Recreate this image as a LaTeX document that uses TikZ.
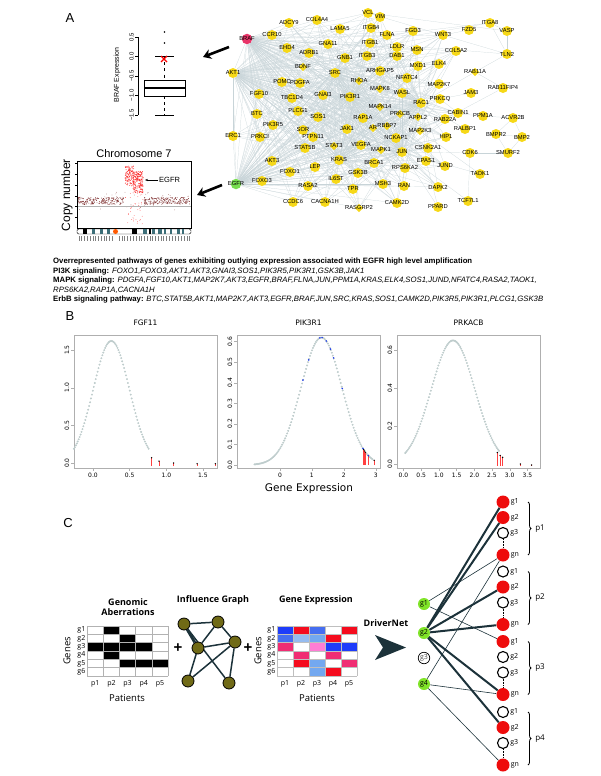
\documentclass[tikz,border=0pt]{standalone}
\usepackage{fontspec}
\setmainfont{Liberation Sans}
\newfontfamily\plotfont{DejaVu Sans}
\newfontfamily\schemefont{Open Sans}
\usetikzlibrary{arrows.meta,shapes.geometric,backgrounds,decorations.pathreplacing}

\definecolor{netyellow}{RGB}{246,216,24}
\definecolor{netgray}{RGB}{200,212,216}
\definecolor{brafpink}{RGB}{232,52,104}
\definecolor{egfrgreen}{RGB}{120,222,80}
\definecolor{cnvdark}{RGB}{125,45,45}
\definecolor{cnvred}{RGB}{250,40,40}
\definecolor{bandteal}{RGB}{60,110,120}
\definecolor{axisgray}{RGB}{175,175,175}
\definecolor{curvegray}{RGB}{190,204,204}
\definecolor{hitblue}{RGB}{30,60,235}
\definecolor{slate}{RGB}{28,50,58}
\definecolor{igolive}{RGB}{112,106,22}
\definecolor{drvgreen}{RGB}{128,228,40}
\definecolor{hitred}{RGB}{238,12,12}
\definecolor{exsb}{RGB}{30,60,250}
\definecolor{exmb}{RGB}{70,110,240}
\definecolor{exlb}{RGB}{115,168,240}
\definecolor{expb}{RGB}{150,188,240}
\definecolor{exrd}{RGB}{245,12,30}
\definecolor{expr}{RGB}{240,45,115}
\definecolor{expk}{RGB}{255,125,212}

% network genes: name/x/y
\def\genecirc{ADCY9/289/23, COL4A4/317/20, VCL/368/13, VIM/380/17, CCR10/272/35, LAMA5/340/29,
  ITGB4/371/28, FLNA/387/35, EHD4/287/48, GNA11/328/44, ITGB1/370/43, LDLR/397/47, ADRB1/309/53,
  GNB1/345/58, ITGB3/367/56, DAB1/397/56, SRC/335/73, ARHGAP5/380/71, POMC/282/82, PDGFA/300/83,
  FGF10/259/94, TBC1D4/292/98, GNAI3/323/95, PIK3R1/350/97, BTC/257/114, PLCG1/298/111,
  SOS1/318/117, RAP1A/363/118, PIK3R5/273/125, SOR/303/130, PTPN11/313/137, JAK1/347/129,
  ERC1/233/136, PRKCI/260/137, VEGFA/361/145, NCKAP1/396/138, STAT5B/305/148, AKT3/272/161,
  KRAS/339/160, FOXO1/290/172, LEP/315/167, BRCA1/374/163, FOXO3/262/181, RASA2/308/186,
  IL6ST/336/179, GSK3B/358/173, MSH3/383/184, TPR/353/189, CCDC6/293/202, CACNA1H/325/202,
  CAMK2D/397/203, FGD3/413/31, WNT3/443/35, FZD5/469/30, ITGA8/490/23, VASP/507/31, MSN/417/50,
  COL5A2/456/51, TLN2/507/54, MXD1/418/66, ELK4/439/64, NFATC4/407/78, MAP2K7/439/84,
  RAB11FIP4/503/88, JAM3/471/93, WASL/402/93, PRKCQ/440/99, RAC1/421/103, CABIN1/458/113,
  PPM1A/483/116, ACVR2B/513/118, RAB22A/445/119, RALBP1/465/129, BMPR2/496/134, BMP2/522/137,
  HIP1/446/137, CSNK2A1/428/148, CDK6/470/153, SMURF2/508/153, JUN/402/152, EPAS1/426/161,
  JUND/445/166, RPS6KA2/405/168, TAOK1/480/174, RAN/404/186, DAPK2/438/187, TCF7L1/468/201,
  PPARD/438/207, AKT1/233/73}
\def\genediam{BDNF/303/67, RHOA/359/81, MAPK8/380/89, MAPK14/380/107, AR/373/128, RBBP7/387/126,
  STAT3/334/146, MAPK1/381/150, PRKCB/400/114, APPL2/418/117, MAP2K3/420/131, RAB11A/475/72,
  RASGRP2/359/208}
\def\netleft{ADCY9,COL4A4,VCL,VIM,CCR10,LAMA5,ITGB4,FLNA,EHD4,GNA11,ITGB1,LDLR,ADRB1,GNB1,ITGB3,
  DAB1,BDNF,ARHGAP5,POMC,PDGFA,RHOA,FGF10,TBC1D4,GNAI3,MAPK8,MAPK14,BTC,PLCG1,SOS1,RAP1A,PIK3R5,
  SOR,PTPN11,JAK1,AR,RBBP7,ERC1,PRKCI,STAT3,VEGFA,NCKAP1,STAT5B,AKT3,FOXO1,LEP,BRCA1,FOXO3,RASA2,
  IL6ST,GSK3B,MSH3,TPR,CCDC6,CACNA1H,RASGRP2,CAMK2D,MAPK1,MSN,MXD1,NFATC4,WASL,PRKCB,APPL2,
  MAP2K3,CSNK2A1,RPS6KA2,RAN,EPAS1,ELK4,MAP2K7,PRKCQ,RAB22A,HIP1,DAPK2,JUND,FGD3,WNT3,COL5A2,CABIN1}

\begin{document}
\begin{tikzpicture}[x=1pt, y=-1pt,
    gene/.style={circle, fill=netyellow, inner sep=0pt, minimum size=10pt},
    genedia/.style={diamond, fill=netyellow, inner sep=0pt, minimum size=8.5pt},
    glab/.style={font=\fontsize{5.8}{5.8}\selectfont, inner sep=0pt},
    netline/.style={draw=netgray, line width=0.2pt},
    fatarrow/.style={line width=2.6pt, -{Stealth[length=8pt,width=10pt]}},
    rlab/.style={font=\fontsize{6}{6}\selectfont, inner sep=1pt},
    txt/.style={font=\fontsize{7.75}{7.75}\selectfont, inner sep=0pt, anchor=west},
    ttl/.style={font=\plotfont\fontsize{7.5}{7.5}\selectfont},
    ticklab/.style={font=\plotfont\fontsize{6}{6}\selectfont, inner sep=1.5pt},
    plotbox/.style={draw=axisgray, line width=0.8pt},
    hitline/.style={draw=red!75, line width=0.6pt},
    curvedots/.style={draw=curvegray, fill=curvegray},
    sch/.style={font=\schemefont\fontsize{7}{7}\selectfont, inner sep=1pt},
    schbold/.style={font=\schemefont\bfseries\fontsize{9}{10}\selectfont, align=center},
    ignode/.style={circle, fill=igolive, draw=black, line width=0.8pt, minimum size=12pt, inner sep=0pt},
    igedge/.style={draw=slate, line width=1.5pt},
    drv/.style={circle, fill=drvgreen, inner sep=0pt, minimum size=12pt, font=\schemefont\fontsize{7}{7}\selectfont},
    hit/.style={circle, fill=hitred, inner sep=0pt, minimum size=13pt},
    miss/.style={circle, draw=black, line width=1.1pt, fill=white, inner sep=0pt, minimum size=11pt},
    thinlink/.style={draw=slate, line width=0.6pt},
    boldlink/.style={draw=slate, line width=2pt}]
\useasboundingbox (0,0) rectangle (600,776);

% ---------- A ----------
\node[font=\fontsize{13}{13}\selectfont] (lblA) at (70,18) {A};

% boxplot BRAF
\draw[line width=0.5pt] (138,37) -- (138,115);
\foreach \v/\t in {0.5/0.5, 0/0.0, -0.5/−0.5, -1/−1.0, -1.5/−1.5}
  \draw[line width=0.5pt] (138,{56.5-39*(\v)}) -- ++(-3,0) node[rlab, rotate=90, anchor=south] {\t};
\node[rlab, rotate=90, font=\fontsize{7}{7}\selectfont] (brafy) at (117,75) {BRAF Expression};
\draw[dashed, line width=0.5pt] (164.5,56.5) -- (164.5,80) (164.5,96) -- (164.5,115);
\draw[line width=0.5pt] (155,56.5) -- (174,56.5) (155,115) -- (174,115);
\draw[line width=0.5pt, fill=white] (144,80) rectangle (185,96);
\draw[line width=2pt] (144,88) -- (185,88);
\fill (164.5,32) circle (0.8pt) (164.5,43) circle (0.8pt);
\draw[red, line width=1.2pt] (161,56) -- (167,62) (161,62) -- (167,56);

% arrows to the side plots
\draw[fatarrow] (229,47) -- (203,57);
\draw[fatarrow] (222,185) -- (197,195);

% network
\foreach \n/\x/\y in \genecirc \node[gene] (\n) at (\x,\y) {};
\foreach \n/\x/\y in \genediam \node[genedia] (\n) at (\x,\y) {};
\node[gene, fill=brafpink, minimum size=10.5pt] (BRAF) at (247,39) {};
\node[gene, fill=egfrgreen, minimum size=10.5pt] (EGFR) at (236,184) {};
\begin{pgfonlayer}{background}
  \foreach \a in \netleft {
    \draw[netline] (BRAF) -- (\a);
    \draw[netline] (AKT1) -- (\a);
    \draw[netline] (EGFR) -- (\a);
    \foreach \b in {SRC,PIK3R1,KRAS,JUN,RAC1} \draw[netline] (\a) -- (\b);
  }
  \foreach \a/\b in {SRC/PIK3R1, SRC/KRAS, SRC/JUN, SRC/RAC1, PIK3R1/KRAS, PIK3R1/JUN,
      PIK3R1/RAC1, KRAS/JUN, KRAS/RAC1, JUN/RAC1, BRAF/AKT1, BRAF/EGFR, AKT1/EGFR,
      ITGA8/ITGB1, ITGA8/TLN2, ITGA8/FLNA, VASP/TLN2, VASP/VCL, TLN2/VCL, TLN2/ITGB1,
      TLN2/RAB11A, RAB11A/RAB11FIP4, RAB11FIP4/RAB22A, JAM3/PRKCQ, ACVR2B/BMP2, ACVR2B/BMPR2,
      BMPR2/BMP2, SMURF2/BMPR2, ACVR2B/PPM1A, SMURF2/CDK6, TCF7L1/CDK6, TCF7L1/JUN,
      TAOK1/MAP2K3, PPARD/JUN, PPARD/EPAS1, FZD5/WNT3, ITGA8/VASP, RAB11A/RAC1,
      RALBP1/RAC1, CDK6/JUN, TAOK1/JUN, BMP2/SMURF2, PPM1A/MAPK14, CABIN1/PRKCQ}
    \draw[netline] (\a) -- (\b);
\end{pgfonlayer}
\foreach \n/\x/\y in \genecirc \node[glab] (\n-l) at (\n) {\n};
\foreach \n/\x/\y in \genediam \node[glab] (\n-l) at (\n) {\n};
\node[glab] (BRAF-l) at (BRAF) {BRAF};
\node[glab] (EGFR-l) at (EGFR) {EGFR};

% chromosome 7 copy number
\node[font=\fontsize{11}{11}\selectfont] (chrttl) at (134,154) {Chromosome 7};
\node[font=\fontsize{12}{12}\selectfont, rotate=90] (cny) at (67,195) {Copy number};
\pgfmathsetseed{11}
\foreach \i in {1,...,190} {
  \pgfmathsetmacro\px{78+46*rnd}\pgfmathsetmacro\py{201+3.5*rand}
  \fill[cnvdark] (\px,\py) circle (0.45);
  \pgfmathsetmacro\px{144+46*rnd}\pgfmathsetmacro\py{201+3.5*rand}
  \fill[cnvdark] (\px,\py) circle (0.45);
}
\foreach \i in {1,...,40} {
  \pgfmathsetmacro\px{78+112*rnd}\pgfmathsetmacro\py{201+9*rand}
  \fill[cnvdark!70] (\px,\py) circle (0.4);
}
\foreach \i in {1,...,130} {
  \pgfmathsetmacro\px{125+9*rnd}\pgfmathsetmacro\py{166+20*rnd}
  \fill[cnvred] (\px,\py) circle (0.45);
}
\foreach \i in {1,...,200} {
  \pgfmathsetmacro\px{133+10*rnd}\pgfmathsetmacro\py{171+22*rnd}
  \fill[cnvred] (\px,\py) circle (0.45);
}
\foreach \i in {1,...,40} {
  \pgfmathsetmacro\px{125+18*rnd}\pgfmathsetmacro\py{190+34*rnd}
  \fill[cnvred!80] (\px,\py) circle (0.4);
}
\draw[gray!60, line width=0.4pt] (77,206) -- (191,206);
\draw[line width=0.5pt] (77,161) rectangle (191,228);
\foreach \y in {163,174,185,196,206,217} \draw[line width=0.4pt] (77,\y) -- ++(-2,0);
\draw[-{Stealth[length=3pt]}, line width=0.6pt] (158,180) -- (145,180);
\node[font=\fontsize{7.5}{7.5}\selectfont, anchor=west, inner sep=1pt] (egfrlab) at (158,180) {EGFR};
% ideogram
\draw[line width=0.4pt, rounded corners=1.5pt] (77,229) rectangle (191,234);
\foreach \a/\b in {83/87, 132/137, 149/151} \fill (\a,229.3) rectangle (\b,233.7);
\foreach \a/\b in {92/95, 100/103, 107/110, 143/147, 152/155, 158/162, 164/166, 170/172, 177/180, 182/184}
  \fill[bandteal] (\a,229.3) rectangle (\b,233.7);
\fill[orange!70!red] (115.5,231.5) circle (2.5);
\foreach \x in {79,81,84,87,90,93,95,98,101,104,106,109,112,119,122,124,127,130,133,136,139,141,144,147,150,152,155,158,161,163,166,169,172,175,178,181,184,187,189}
  \draw[gray, line width=0.3pt] (\x,236) -- (\x,241);

% pathway text
\node[txt] (pw0) at (53,262) {\textbf{Overrepresented pathways of genes exhibiting outlying expression associated with EGFR high level amplification}};
\node[txt] (pw1) at (53,271.5) {\textbf{PI3K signaling:} \textit{FOXO1,FOXO3,AKT1,AKT3,GNAI3,SOS1,PIK3R5,PIK3R1,GSK3B,JAK1}};
\node[txt] (pw2) at (53,281) {\textbf{MAPK signaling:} \textit{PDGFA,FGF10,AKT1,MAP2K7,AKT3,EGFR,BRAF,FLNA,JUN,PPM1A,KRAS,ELK4,SOS1,JUND,NFATC4,RASA2,TAOK1,}};
\node[txt] (pw3) at (53,290) {\textit{RPS6KA2,RAP1A,CACNA1H}};
\node[txt] (pw4) at (53,299.5) {\textbf{ErbB signaling pathway:} \textit{BTC,STAT5B,AKT1,MAP2K7,AKT3,EGFR,BRAF,JUN,SRC,KRAS,SOS1,CAMK2D,PIK3R5,PIK3R1,PLCG1,GSK3B}};

% ---------- B ----------
\node[font=\fontsize{13}{13}\selectfont] (lblB) at (70,316) {B};
% FGF11
\draw[plotbox] (74,335) rectangle (217,468);
\node[ttl] (tfgf) at (145.5,323) {FGF11};
\foreach \t in {0.0,0.5,1.0,1.5}
  \draw[draw=axisgray] ({93+73.3*\t},468) -- ++(0,3) node[ticklab, below] {\t};
\foreach \v in {0.0,0.5,1.0,1.5}
  \draw[draw=axisgray] (74,{463-75.3*\v}) -- ++(-3,0) node[ticklab, rotate=90, anchor=south] {\v};
\begin{scope}[shift={(93,463)}, x=73.3pt, y=75.3pt]
  \path[curvedots] plot[domain=-0.26:0.76, samples=80, only marks, mark=*, mark size=0.75pt] (\x,{1.62*exp(-((\x-0.25)^2)/0.121)});
  \foreach \h/\v in {0.8/0.07, 0.9/0.025, 1.1/0.0, 1.42/-0.01, 1.67/-0.01} {
    \draw[hitline] (\h,-0.04) -- (\h,\v);
    \fill (\h,\v) circle (0.8pt);
  }
\end{scope}
% PIK3R1
\draw[plotbox] (237,335) rectangle (380,468);
\node[ttl] (tpik) at (308.5,323) {PIK3R1};
\foreach \t in {0,1,2,3}
  \draw[draw=axisgray] ({280+31.9*\t},468) -- ++(0,3) node[ticklab, below] {\t};
\foreach \v in {0.0,0.1,0.2,0.3,0.4,0.5,0.6}
  \draw[draw=axisgray] (237,{465-205.6*\v}) -- ++(-3,0) node[ticklab, rotate=90, anchor=south] {\v};
\begin{scope}[shift={(280,465)}, x=31.9pt, y=205.6pt]
  \path[curvedots] plot[domain=-0.8:2.9, samples=120, only marks, mark=*, mark size=0.75pt] (\x,{0.62*exp(-((\x-1.3)^2)/0.827)});
  \foreach \h in {2.62, 2.65, 2.68, 2.77, 2.95} {
    \draw[hitline] (\h,0) -- (\h,{0.62*exp(-((\h-1.3)^2)/0.827)});
    \fill (\h,{0.62*exp(-((\h-1.3)^2)/0.827)}) circle (0.7pt);
  }
  \foreach \h in {0.72, 0.9, 1.25, 1.32, 1.45, 1.58, 1.68, 1.95, 2.6, 2.77}
    \fill[hitblue] (\h,{0.62*exp(-((\h-1.3)^2)/0.827)}) circle (0.9pt);
\end{scope}
% PRKACB
\draw[plotbox] (397,335) rectangle (540,468);
\node[ttl] (tprk) at (468.5,323) {PRKACB};
\foreach \t in {0.0,0.5,1.0,1.5,2.0,2.5,3.0,3.5}
  \draw[draw=axisgray] ({403.5+35.4*\t},468) -- ++(0,3) node[ticklab, below] {\t};
\foreach \v in {0.0,0.2,0.4,0.6}
  \draw[draw=axisgray] (397,{464-190*\v}) -- ++(-3,0) node[ticklab, rotate=90, anchor=south] {\v};
\begin{scope}[shift={(403.5,464)}, x=35.4pt, y=190pt]
  \path[curvedots] plot[domain=0.05:2.7, samples=100, only marks, mark=*, mark size=0.75pt] (\x,{0.65*exp(-((\x-1.4)^2)/0.754)});
  \foreach \h/\v in {2.65/0.06, 2.73/0.045, 2.8/0.035, 3.3/0.0, 3.62/-0.005} {
    \draw[hitline] (\h,-0.01) -- (\h,\v);
    \fill (\h,\v) circle (0.8pt);
  }
\end{scope}
\node[font=\plotfont\fontsize{10.5}{10.5}\selectfont] (gexp) at (309,489) {Gene Expression};

% ---------- C ----------
\node[font=\fontsize{13}{13}\selectfont] (lblC) at (68,523) {C};
% genomic aberrations matrix
\node[schbold] (gatitle) at (128,607) {Genomic\\Aberrations};
\foreach \c/\r in {2/1, 3/2, 1/3, 2/3, 3/3, 4/3, 2/4, 3/5, 4/5, 5/5}
  \fill ({87+16.2*(\c-1)},{626+8.33*(\r-1)}) rectangle ++(16.2,8.33);
\foreach \c in {0,...,5} \draw[gray!60, line width=0.4pt] ({87+16.2*\c},626) -- ++(0,50);
\foreach \r in {0,...,6} \draw[gray!60, line width=0.4pt] (87,{626+8.33*\r}) -- ++(81,0);
\foreach \r in {1,...,6} \node[sch, anchor=east] (ga\r) at (86.5,{621.8+8.33*\r}) {g\r};
\foreach \c in {1,...,5} \node[sch] (gp\c) at ({79+16.2*\c},684) {p\c};
\node[sch, font=\schemefont\fontsize{9.5}{9.5}\selectfont, rotate=90] (gagenes) at (67,651) {Genes};
\node[sch, font=\schemefont\fontsize{9.5}{9.5}\selectfont] (gapat) at (127,698) {Patients};
\node[font=\bfseries\fontsize{15}{15}\selectfont] (plus1) at (178,648) {+};

% influence graph
\node[schbold] (igtitle) at (213,600) {Influence Graph};
\node[ignode] (ig1) at (184,624) {};
\node[ignode] (ig2) at (218,622) {};
\node[ignode] (ig3) at (198,648) {};
\node[ignode] (ig4) at (235,642) {};
\node[ignode] (ig5) at (188,681) {};
\node[ignode] (ig6) at (229,683) {};
\begin{pgfonlayer}{background}
  \foreach \a/\b in {ig1/ig2, ig1/ig6, ig2/ig3, ig2/ig4, ig3/ig4, ig3/ig5, ig5/ig4, ig4/ig6}
    \draw[igedge] (\a) -- (\b);
  \draw[igedge, line width=2.8pt] (ig1) -- (ig3);
\end{pgfonlayer}
\node[font=\bfseries\fontsize{15}{15}\selectfont] (plus2) at (248,648) {+};

% gene expression matrix
\node[schbold] (extitle) at (316,600) {Gene Expression};
\foreach \c/\r/\col in {1/1/exsb, 1/2/exmb, 1/3/expr, 2/1/exrd, 2/2/expb, 2/4/expr, 2/5/exrd,
    3/1/exmb, 3/2/exlb, 3/3/expk, 3/5/exlb, 3/6/exlb, 4/2/exrd, 4/3/exsb, 4/4/expr, 4/6/exrd,
    5/1/exrd, 5/3/exsb, 5/5/expr}
  \fill[\col] ({277+16*(\c-1)},{626+8.33*(\r-1)}) rectangle ++(16,8.33);
\foreach \c in {0,...,5} \draw[gray!50, line width=0.4pt] ({277+16*\c},626) -- ++(0,50);
\foreach \r in {0,...,6} \draw[gray!50, line width=0.4pt] (277,{626+8.33*\r}) -- ++(80,0);
\foreach \r in {1,...,6} \node[sch, anchor=east] (ea\r) at (276.5,{621.8+8.33*\r}) {g\r};
\foreach \c in {1,...,5} \node[sch] (ep\c) at ({269+16*\c},684) {p\c};
\node[sch, font=\schemefont\fontsize{9.5}{9.5}\selectfont, rotate=90] (exgenes) at (258,651) {Genes};
\node[sch, font=\schemefont\fontsize{9.5}{9.5}\selectfont] (expat) at (317,698) {Patients};

% DriverNet step
\node[schbold] (dnet) at (386,623) {DriverNet};
\fill[slate] (375,635) -- (406,647.5) -- (375,660) -- (383,647.5) -- cycle;

% drivers and patient genes
\node[drv] (dg1) at (424,604) {g1};
\node[drv] (dg2) at (424,633) {g2};
\node[circle, draw=black, line width=0.7pt, fill=white, inner sep=0pt, minimum size=11.5pt,
  font=\schemefont\fontsize{7}{7}\selectfont, text=black!70] (dg3) at (424,658) {g3};
\node[drv] (dg4) at (424,684) {g4};
\foreach \n/\y/\s/\t in {p1g1/502/hit/g1, p1g2/517.5/hit/g2, p1g3/533/miss/g3, p1gn/555/hit/gn,
    p2g1/571.5/miss/g1, p2g2/587/hit/g2, p2g3/602.5/miss/g3, p2gn/624.5/hit/gn,
    p3g1/641.5/hit/g1, p3g2/657/miss/g2, p3g3/672.5/miss/g3, p3gn/694.5/hit/gn,
    p4g1/712/miss/g1, p4g2/727.5/hit/g2, p4g3/743/miss/g3, p4gn/765/hit/gn}
  \node[\s, label={[sch]right:\t}] (\n) at (503,\y) {};
\foreach \g in {1,...,4} \draw[densely dotted, line width=0.6pt] (p\g g3) -- (p\g gn);
\foreach \g/\a/\b in {1/502/555, 2/571.5/624.5, 3/641.5/694.5, 4/712/765} {
  \draw[decorate, decoration={brace, amplitude=3pt}, line width=0.8pt] (528,\a) -- (528,\b);
  \node[sch, font=\schemefont\fontsize{8}{8}\selectfont] (pl\g) at (540,{(\a+\b)/2}) {p\g};
}
\begin{pgfonlayer}{background}
  \draw[thinlink] (dg1) -- (p1gn);
  \draw[thinlink] (dg1) -- (p3g1);
  \foreach \t in {p1g1, p1g2, p2g2, p2gn, p3gn, p4g2} \draw[boldlink] (dg2) -- (\t);
  \foreach \t in {p1gn, p3gn, p4gn} \draw[thinlink] (dg4) -- (\t);
\end{pgfonlayer}
\end{tikzpicture}
\end{document}
